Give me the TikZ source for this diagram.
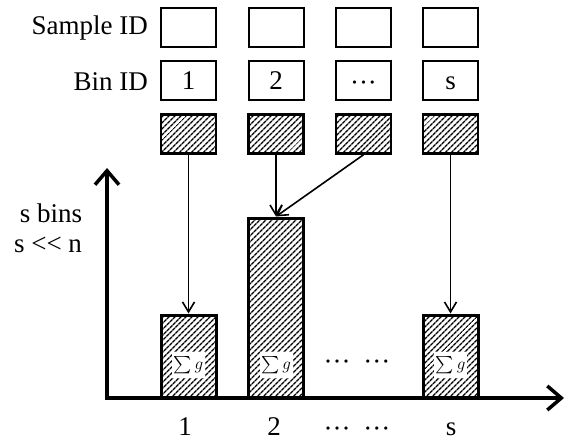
\RequirePackage{fix-cm}
\documentclass[tikz,border=0pt]{standalone}
\usepackage{exscale}
\usepackage{fontspec}
\setmainfont{Liberation Serif}
\usetikzlibrary{arrows.meta,patterns.meta}
\begin{document}
\begin{tikzpicture}[x=1pt,y=-1pt,
  lbl/.style={font=\fontsize{27}{30}\selectfont, inner sep=0pt},
  idbox/.style={draw, line width=2pt, minimum width=55pt, minimum height=39pt, inner sep=0pt,
    font=\fontsize{27}{30}\selectfont, text height=19pt, text depth=0pt},
  hbox/.style={draw, line width=2.5pt, pattern={Lines[angle=45,distance=4pt,line width=1.4pt]},
    minimum width=55pt, minimum height=39pt, inner sep=0pt},
  bar/.style={hbox, line width=3pt},
  sig/.style={fill=white, inner sep=0pt, minimum width=33pt, minimum height=26pt,
    font=\fontsize{17}{19}\selectfont},
  arr/.style={-{Straight Barb[length=10pt,width=12pt,line width=1.6pt]}, line width=1.6pt},
  axis/.style={-{Straight Barb[length=14pt,width=24pt,line width=3.5pt]}, line width=3.5pt}
]
\useasboundingbox (0,0) rectangle (565,441);

% row labels
\node[lbl, anchor=east] (sid) at (148,28) {Sample ID};
\node[lbl, anchor=east] (bid) at (148,82) {Bin ID};

% sample ID boxes
\node[idbox] (s1) at (188.5,28) {};
\node[idbox] (s2) at (276,28) {};
\node[idbox] (s3) at (363.5,28) {};
\node[idbox] (s4) at (450.5,28) {};

% bin ID boxes
\node[idbox] (n1) at (188.5,80.5) {1};
\node[idbox] (n2) at (276,80.5) {2};
\node[idbox] (n3) at (363.5,80.5) {\raisebox{-2pt}{···}};
\node[idbox] (n4) at (450.5,80.5) {s};

% hatched boxes
\node[hbox] (h1) at (188.5,134) {};
\node[hbox] (h2) at (276,134) {};
\node[hbox] (h3) at (363.5,134) {};
\node[hbox] (h4) at (450.5,134) {};

% bars
\node[bar, minimum height=83pt] (b1) at (188.5,356.5) {};
\node[bar, minimum height=180pt] (b2) at (276,308) {};
\node[bar, minimum height=83pt] (b4) at (450.5,356.5) {};

\node[sig] (g1) at (188.5,365) {$\sum g$};
\node[sig] (g2) at (276,365) {$\sum g$};
\node[sig] (g4) at (450.5,365) {$\sum g$};

\node[lbl, anchor=base] (md) at (357,370) {···\hspace{13pt}···};

% axes
\coordinate (o) at (105,398);
\coordinate (yt) at (107,168);
\coordinate (xt) at (564,398);
\draw[axis] (o -| yt) -- (yt);
\draw[axis] (o) -- (xt);

% arrows
\draw[arr] (h1.south) -- (b1.north);
\draw[arr] (h2.south) -- (b2.north);
\draw[arr] (h3.south) -- (b2.north);
\draw[arr] (h4.south) -- (b4.north);

% axis labels
\node[lbl] (sb) at (51,213) {s bins};
\node[lbl] (sn) at (48,245) {s {<}{<} n};

\node[lbl, anchor=base] (x1) at (185,435) {1};
\node[lbl, anchor=base] (x2) at (274,435) {2};
\node[lbl, anchor=base] (xd) at (357,437) {···\hspace{13pt}···};
\node[lbl, anchor=base] (xs) at (451,435) {s};
\end{tikzpicture}
\end{document}
